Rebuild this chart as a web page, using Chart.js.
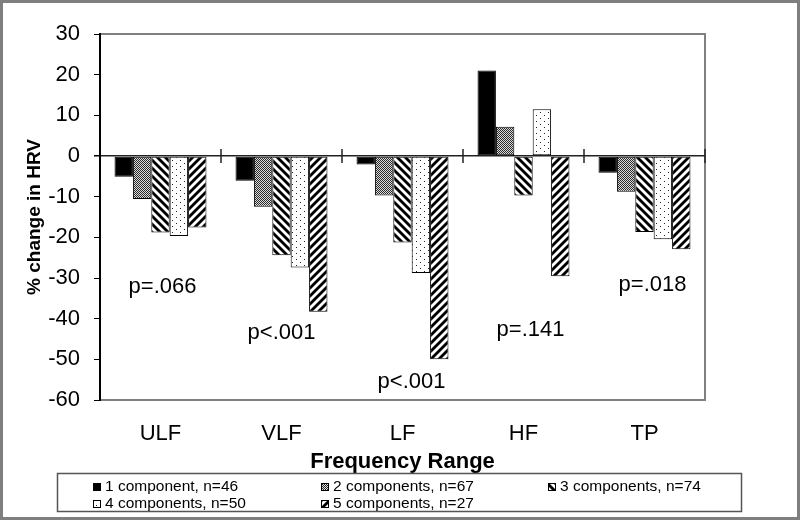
<!DOCTYPE html>
<html><head><meta charset="utf-8">
<script src="https://cdn.jsdelivr.net/npm/chart.js@4"></script>
<style>
html,body{margin:0;padding:0;background:#fff;}
#frame{width:800px;height:520px;box-sizing:border-box;border:3px solid #7f7f7f;background:#fff;}
canvas{display:block;}
</style></head><body>
<div id="frame"><canvas id="c" width="794" height="514"></canvas></div>
<script>
// ---- data ----
const categories = ['ULF', 'VLF', 'LF', 'HF', 'TP'];
const seriesLabels = ['1 component, n=46', '2 components, n=67', '3 components, n=74', '4 components, n=50', '5 components, n=27'];
const oneComponent    = [-5.1, -6.1, -2.1, 21.0, -4.1];
const twoComponents   = [-10.6, -12.5, -9.7, 7.2, -8.8];
const threeComponents = [-18.8, -24.4, -21.3, -9.7, -18.7];
const fourComponents  = [-19.7, -27.4, -28.8, 11.5, -20.5];
const fiveComponents  = [-17.6, -38.3, -50.0, -29.6, -22.9];
const pValueLabels = ['p=.066', 'p<.001', 'p<.001', 'p=.141', 'p=.018'];
const yMin = -60, yMax = 30, yStep = 10;

// ---- styles ----
Chart.defaults.font.family = '"Liberation Sans", Arial, sans-serif';
const mainCtx = document.getElementById('c').getContext('2d');
function tile(w, h, draw) {
  const c = document.createElement('canvas');
  c.width = w; c.height = h;
  const g = c.getContext('2d');
  g.fillStyle = '#fff'; g.fillRect(0, 0, w, h);
  draw(g, w, h);
  return mainCtx.createPattern(c, 'repeat');
}
const fills = [
  '#000',
  tile(2, 2, g => {
    g.fillStyle = '#2a2a2a'; g.fillRect(0, 0, 1, 1); g.fillRect(1, 1, 1, 1);
    g.fillStyle = '#dcdcdc'; g.fillRect(1, 0, 1, 1); g.fillRect(0, 1, 1, 1);
  }),
  tile(8, 8, g => {
    g.strokeStyle = '#000'; g.lineWidth = 2.8;
    for (const k of [-8, 0, 8]) { g.beginPath(); g.moveTo(k - 2, -2); g.lineTo(k + 10, 10); g.stroke(); }
  }),
  tile(8, 6, g => {
    g.fillStyle = '#222'; g.fillRect(1, 1, 1, 1); g.fillRect(5, 4, 1, 1);
  }),
  tile(8, 8, g => {
    g.strokeStyle = '#000'; g.lineWidth = 2.8;
    for (const k of [-8, 0, 8]) { g.beginPath(); g.moveTo(k - 2, 10); g.lineTo(k + 10, -2); g.stroke(); }
  })
];

const seriesValues = [oneComponent, twoComponents, threeComponents, fourComponents, fiveComponents];

// placement of p-value annotations (pixel x offset from category centre, y in data units)
const pLabelPlacement = [
  { dx: 2, y: -32.2 }, { dx: 0, y: -43.5 }, { dx: 9, y: -55.6 }, { dx: 7, y: -42.8 }, { dx: 8, y: -31.7 }
];

const decor = {
  id: 'decor',
  beforeDraw(chart) {
    const { ctx, chartArea: a } = chart;
    ctx.save();
    ctx.strokeStyle = '#808080'; ctx.lineWidth = 2;
    ctx.strokeRect(a.left, a.top, a.right - a.left, a.bottom - a.top);
    ctx.restore();
  },
  afterDatasetsDraw(chart) {
    const { ctx, chartArea: a } = chart;
    const xs = chart.scales.x, ys = chart.scales.y;
    const y0 = ys.getPixelForValue(0);
    const half = (xs.getPixelForValue(1) - xs.getPixelForValue(0)) / 2;
    ctx.save();
    ctx.strokeStyle = '#222'; ctx.lineWidth = 1.5;
    for (let i = 0; i < categories.length; i++) {
      const x = Math.min(xs.getPixelForValue(i) + half, a.right);
      ctx.beginPath(); ctx.moveTo(x, y0 - 7); ctx.lineTo(x, y0 + 7); ctx.stroke();
    }
    ctx.restore();
  },
  afterDraw(chart) {
    const { ctx } = chart;
    const xs = chart.scales.x, ys = chart.scales.y;
    ctx.save();
    // p-value annotations
    ctx.fillStyle = '#000';
    ctx.font = '22px "Liberation Sans", Arial, sans-serif';
    ctx.textAlign = 'center'; ctx.textBaseline = 'middle';
    pValueLabels.forEach((t, i) => {
      const p = pLabelPlacement[i];
      ctx.fillText(t, xs.getPixelForValue(i) + p.dx, ys.getPixelForValue(p.y));
    });
    // legend box
    ctx.strokeStyle = '#555'; ctx.lineWidth = 1.5;
    ctx.strokeRect(54.5, 470.5, 684, 38);
    ctx.font = '15.5px "Liberation Sans", Arial, sans-serif';
    ctx.textAlign = 'left';
    const colX = [90, 318, 545], rowY = [484, 501];
    chart.data.datasets.forEach((ds, i) => {
      const cx = colX[i % 3], cy = rowY[Math.floor(i / 3)];
      ctx.fillStyle = ds.backgroundColor;
      ctx.fillRect(cx, cy - 4, 7, 7);
      ctx.strokeStyle = '#000'; ctx.lineWidth = 1;
      ctx.strokeRect(cx + 0.5, cy - 3.5, 7, 7);
      ctx.fillStyle = '#000';
      ctx.fillText(ds.label, cx + 12, cy);
    });
    ctx.restore();
  }
};

new Chart(mainCtx, {
  type: 'bar',
  data: {
    labels: categories,
    datasets: seriesValues.map((vals, i) => ({
      label: seriesLabels[i],
      data: vals,
      backgroundColor: fills[i],
      borderColor: '#000',
      borderWidth: 1,
      borderSkipped: false,
      barPercentage: 1,
      categoryPercentage: 0.76
    }))
  },
  options: {
    responsive: false,
    animation: false,
    events: [],
    layout: { padding: { left: 0, top: 31, right: 92, bottom: 42 } },
    plugins: { legend: { display: false }, tooltip: { enabled: false } },
    scales: {
      x: {
        grid: { display: false },
        border: { display: true, color: '#808080', width: 2 },
        ticks: { color: '#000', font: { size: 22 }, padding: 13, maxRotation: 0, autoSkip: false },
        title: { display: true, text: 'Frequency Range', color: '#000', font: { size: 22, weight: 'bold' }, padding: { top: 0, bottom: 0 } },
        afterFit(s) { s.height = 75; }
      },
      y: {
        min: yMin, max: yMax,
        ticks: { stepSize: yStep, color: '#000', font: { size: 22 }, padding: 14 },
        grid: {
          color: c => (c.tick && c.tick.value === 0) ? '#222' : 'rgba(0,0,0,0)',
          lineWidth: c => (c.tick && c.tick.value === 0) ? 1.5 : 1,
          tickColor: '#000', tickLength: 6, drawTicks: true
        },
        border: { color: '#000', width: 2 },
        title: { display: true, text: '% change in HRV', color: '#000', font: { size: 19, weight: 'bold' }, padding: { top: 20, bottom: 0 } },
        afterFit(s) { s.width = 97; }
      }
    }
  },
  plugins: [decor]
});
</script>
</body></html>
